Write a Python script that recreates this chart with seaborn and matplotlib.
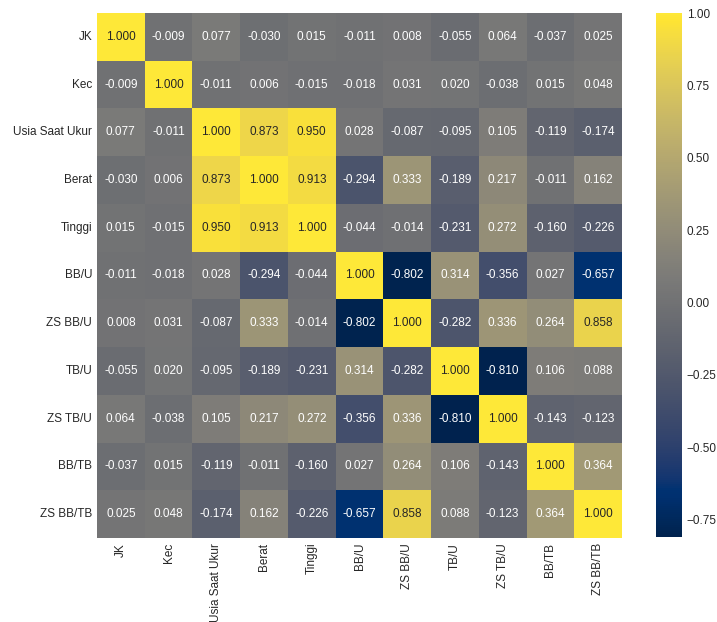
import numpy as np
import pandas as pd
import matplotlib
matplotlib.use('Agg')
import matplotlib.pyplot as plt
import seaborn as sns

sns.set_theme(style="white")
plt.rcParams['font.family'] = ['Liberation Sans', 'DejaVu Sans']

# label variabel
labels = ['JK', 'Kec', 'Usia Saat Ukur', 'Berat', 'Tinggi', 'BB/U',
          'ZS BB/U', 'TB/U', 'ZS TB/U', 'BB/TB', 'ZS BB/TB']

# nilai korelasi per baris
jk       = [1.000, -0.009, 0.077, -0.030, 0.015, -0.011, 0.008, -0.055, 0.064, -0.037, 0.025]
kec      = [-0.009, 1.000, -0.011, 0.006, -0.015, -0.018, 0.031, 0.020, -0.038, 0.015, 0.048]
usia     = [0.077, -0.011, 1.000, 0.873, 0.950, 0.028, -0.087, -0.095, 0.105, -0.119, -0.174]
berat    = [-0.030, 0.006, 0.873, 1.000, 0.913, -0.294, 0.333, -0.189, 0.217, -0.011, 0.162]
tinggi   = [0.015, -0.015, 0.950, 0.913, 1.000, -0.044, -0.014, -0.231, 0.272, -0.160, -0.226]
bb_u     = [-0.011, -0.018, 0.028, -0.294, -0.044, 1.000, -0.802, 0.314, -0.356, 0.027, -0.657]
zs_bb_u  = [0.008, 0.031, -0.087, 0.333, -0.014, -0.802, 1.000, -0.282, 0.336, 0.264, 0.858]
tb_u     = [-0.055, 0.020, -0.095, -0.189, -0.231, 0.314, -0.282, 1.000, -0.810, 0.106, 0.088]
zs_tb_u  = [0.064, -0.038, 0.105, 0.217, 0.272, -0.356, 0.336, -0.810, 1.000, -0.143, -0.123]
bb_tb    = [-0.037, 0.015, -0.119, -0.011, -0.160, 0.027, 0.264, 0.106, -0.143, 1.000, 0.364]
zs_bb_tb = [0.025, 0.048, -0.174, 0.162, -0.226, -0.657, 0.858, 0.088, -0.123, 0.364, 1.000]

corr = pd.DataFrame([jk, kec, usia, berat, tinggi, bb_u, zs_bb_u, tb_u,
                     zs_tb_u, bb_tb, zs_bb_tb], index=labels, columns=labels)

fig = plt.figure(figsize=(7.17, 6.22), dpi=100)
ax = fig.add_axes([97/717, 84/622, 525/717, 525/622])
cax = fig.add_axes([656/717, 85/622, 26/717, 524/622])

sns.heatmap(corr, annot=True, fmt='.3f', cmap='cividis', ax=ax, cbar_ax=cax,
            annot_kws={'fontsize': 8.5})

ax.tick_params(axis='both', labelsize=8.5, length=0)
ax.set_xticklabels(labels, rotation=90)
ax.set_yticklabels(labels, rotation=0)
cax.set_yticks([1.0, 0.75, 0.5, 0.25, 0.0, -0.25, -0.5, -0.75])
cax.set_yticklabels(['1.00', '0.75', '0.50', '0.25', '0.00', '\u22120.25', '\u22120.50', '\u22120.75'])
cax.tick_params(labelsize=8.5, length=0)

fig.savefig('out.png', dpi=100)
